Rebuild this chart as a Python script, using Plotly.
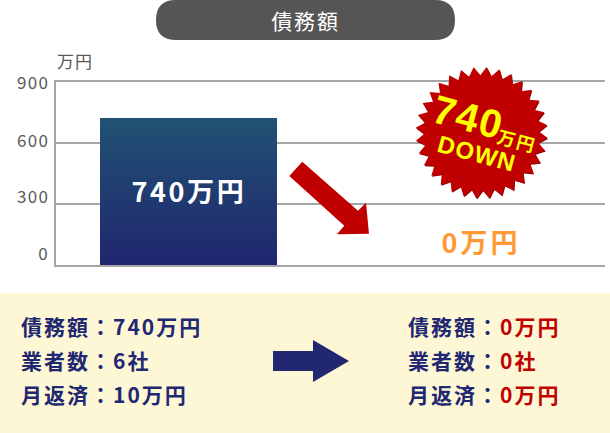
import json
import math
import re
import plotly.graph_objects as go

# %% DATA
bar_positions = [0, 1]
bar_values = [723, 0]  # height as drawn in the picture
tick_values = [0, 300, 600, 900]
tick_labels = ["0", "300", "600", "900"]
tick_label_rows = [252, 195, 139, 81]
unit_label = "万円"
title_text = "債務額"
bar_label = "740万円"
after_label = "0万円"
rows_before = ["債務額：740万円", "業者数：6社", "月返済：10万円"]
rows_after_names = ["債務額：", "業者数：", "月返済："]
rows_after_values = ["0万円", "0社", "0万円"]

JP = "Noto Sans CJK JP"
GREY = "#a6a6a6"
TEXT_GREY = "#595959"
NAVY = "#212771"
RED = "#c00000"

# plot area in page pixels
LEFT, RIGHT, TOP, BOTTOM = 56, 605, 82, 265
W, H = 610, 433

spacings = []  # letter spacing per annotation, applied after the plot is drawn


def px(x):
    return (x - LEFT) / (RIGHT - LEFT)


def py(y):
    return (BOTTOM - y) / (BOTTOM - TOP)


def path(points):
    return "M " + " L ".join(f"{px(x):.4f},{py(y):.4f}" for x, y in points) + " Z"


def star(cx, cy, r_out, r_in, n, rot=0):
    pts = []
    for i in range(n * 2):
        r = r_out if i % 2 == 0 else r_in
        a = math.pi * i / n + rot
        pts.append((cx + r * math.cos(a), cy + r * math.sin(a)))
    return path(pts)


def label(text, x, y, size, color, anchor="left", bold=True, family=JP, angle=0, spacing=0):
    # spacing grows the text around its centre, so keep the anchored edge where it was
    n = len(re.sub("<[^>]+>", "", text))
    if anchor == "left":
        x += n * spacing / 2
    elif anchor == "right":
        x -= n * spacing / 2
    spacings.append(spacing)
    return dict(text=text, x=px(x), y=py(y), xref="paper", yref="paper", xanchor=anchor, yanchor="middle",
                showarrow=False, textangle=angle, borderpad=0,
                font=dict(family=family, size=size, color=color, weight="bold" if bold else "normal"))


# %% FIGURE
fig = go.Figure()
bar_width = 177 / 274.5

fig.add_trace(go.Bar(x=bar_positions, y=bar_values, width=bar_width, marker=dict(color="#20396f", line_width=0),
                     hoverinfo="skip", showlegend=False))

# bars cannot take a gradient, so the same value is filled again with one
x0 = bar_positions[0] - bar_width / 2
x1 = bar_positions[0] + bar_width / 2
fig.add_trace(go.Scatter(x=[x0, x0, x1, x1], y=[0, bar_values[0], bar_values[0], 0], mode="none", fill="toself",
                         fillgradient=dict(type="vertical", start=0, stop=bar_values[0],
                                           colorscale=[[0, "#20266f"], [1, "#215273"]]),
                         hoverinfo="skip", showlegend=False))

shapes = [
    # header pill
    dict(type="path", xref="paper", yref="paper", line_width=0, fillcolor="#555555",
         path=f"M {px(176):.4f},{py(0):.4f} L {px(435):.4f},{py(0):.4f} "
              f"Q {px(455):.4f},{py(0):.4f} {px(455):.4f},{py(20):.4f} "
              f"Q {px(455):.4f},{py(40):.4f} {px(435):.4f},{py(40):.4f} L {px(176):.4f},{py(40):.4f} "
              f"Q {px(156):.4f},{py(40):.4f} {px(156):.4f},{py(20):.4f} "
              f"Q {px(156):.4f},{py(0):.4f} {px(176):.4f},{py(0):.4f} Z"),
    # bottom panel
    dict(type="rect", xref="paper", yref="paper", x0=px(0), x1=px(W), y0=py(293), y1=py(H), line_width=0,
         fillcolor="#fef7d5"),
    # red arrow
    dict(type="path", xref="paper", yref="paper", line_width=0, fillcolor=RED,
         path=path([(289.3, 176), (302.3, 161.7), (358, 210.7), (366, 202.7), (369, 233.7), (337, 234.3),
                    (344.3, 225.7)])),
    # navy arrow
    dict(type="path", xref="paper", yref="paper", line_width=0, fillcolor=NAVY,
         path=path([(273, 351), (313, 351), (313, 340), (349, 361), (313, 382), (313, 371), (273, 371)])),
    # badge
    dict(type="path", xref="paper", yref="paper", line_width=0, fillcolor="#8c0000",
         path=star(482.2, 133.8, 66, 57.5, 32, 0.077)),
    dict(type="path", xref="paper", yref="paper", line_width=0, fillcolor=RED,
         path=star(481.5, 132.8, 66, 57.5, 32, 0.077)),
]

annotations = [
    label(title_text, 305, 20, 21, "white", "center", False, spacing=1.8),
    label(unit_label, 56, 60, 17, TEXT_GREY, bold=False, spacing=1),
    label(bar_label, 189, 190, 27, "white", "center", spacing=2.6),
    label(after_label, 480.5, 241, 27, "#ff9933", "center", spacing=3),
    label("740", 468, 117, 40, "#ffff00", "center", family="Liberation Sans", angle=15, spacing=1.5),
    label(unit_label, 517, 140, 18, "#ffff00", "center", angle=15, spacing=1.5),
    label("DOWN", 477, 153, 24, "#ffff00", "center", family="Liberation Sans", angle=15, spacing=1),
]
for text, row in zip(tick_labels, tick_label_rows):
    annotations.append(label(text, 50, row, 17, TEXT_GREY, "right", False, spacing=1.3))
for i, y in enumerate([326, 360, 394]):
    annotations.append(label(rows_before[i], 20, y, 21, NAVY, spacing=2))
    after = f'{rows_after_names[i]}<span style="color:{RED}">{rows_after_values[i]}</span>'
    annotations.append(label(after, 407, y, 21, NAVY, spacing=2))

fig.update_layout(width=W, height=H, margin=dict(l=LEFT, r=W - RIGHT, t=TOP, b=H - BOTTOM),
                  paper_bgcolor="white", plot_bgcolor="white", showlegend=False,
                  shapes=shapes, annotations=annotations)
fig.update_xaxes(range=[-132.5 / 274.5, 2 - 132.5 / 274.5], showticklabels=False, ticks="", showgrid=False,
                 zeroline=False, showline=True, linecolor=GREY, linewidth=2, mirror=True)
fig.update_yaxes(range=[0, 900], tickvals=tick_values, showticklabels=False, ticks="", showgrid=True,
                 gridcolor=GREY, gridwidth=2, zeroline=False, showline=True, linecolor=GREY, linewidth=2)

post_script = (
    "document.body.style.margin='0';"
    f"{json.dumps(spacings)}.forEach(function(s, i) {{"
    "var t = document.querySelector('.annotation[data-index=\"' + i + '\"] .annotation-text');"
    "if (t && s) { t.style.letterSpacing = s + 'px'; }"
    "});"
)
fig.write_html("out.html", config={"displayModeBar": False}, post_script=post_script)
